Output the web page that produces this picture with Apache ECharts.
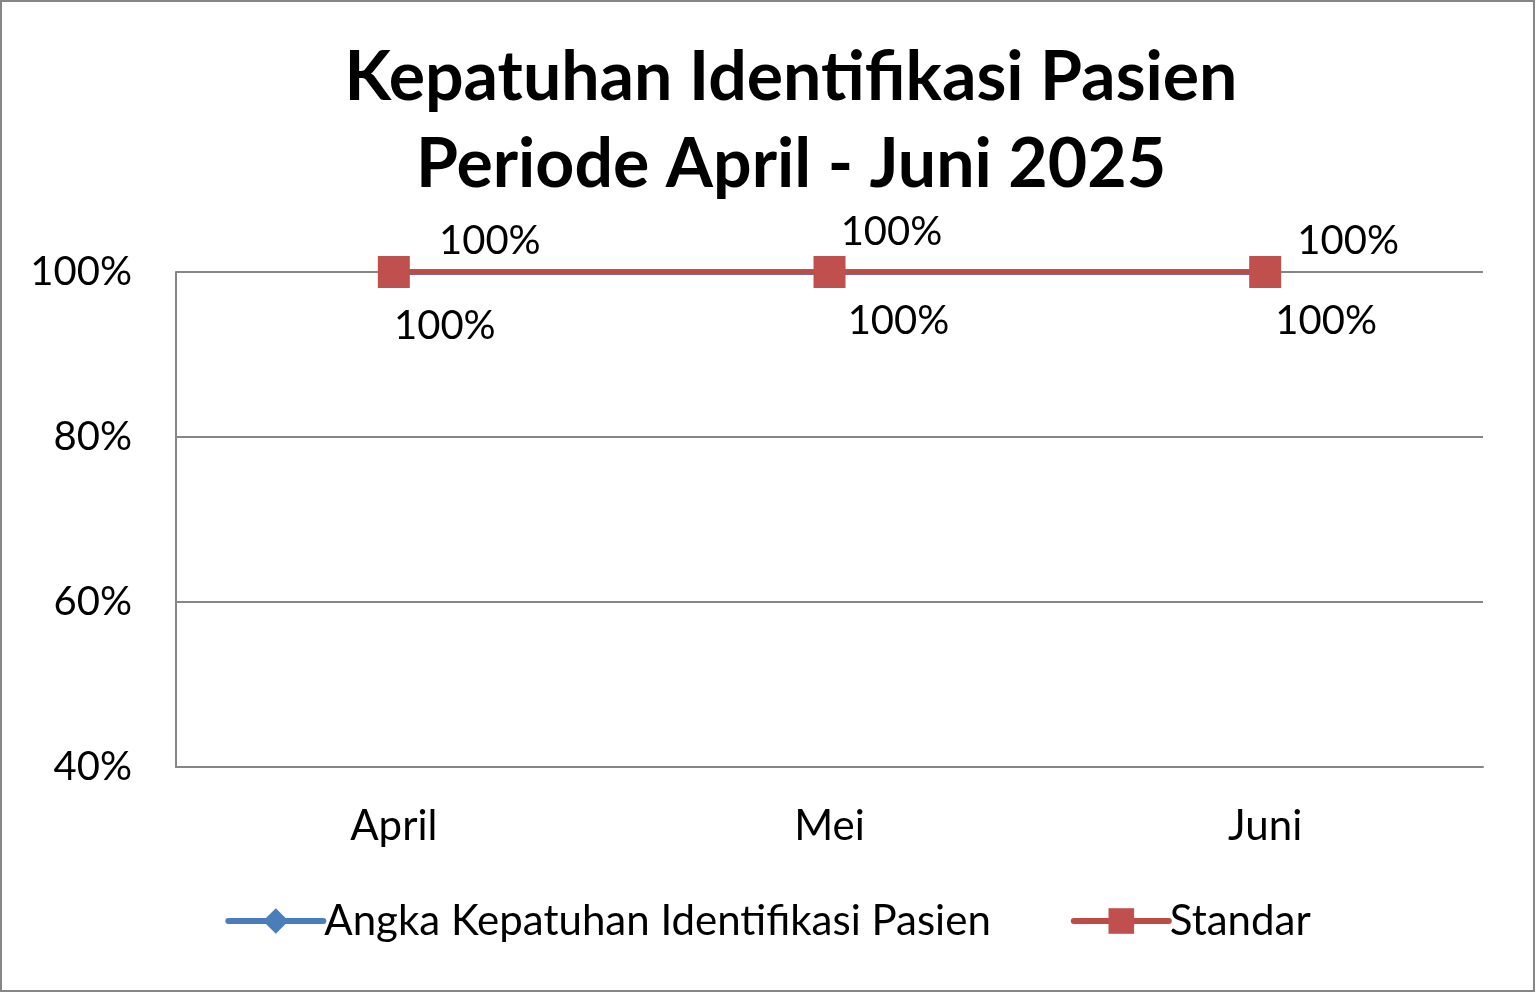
<!DOCTYPE html>
<html><head><meta charset="utf-8">
<script src="https://cdn.jsdelivr.net/npm/echarts@6/dist/echarts.min.js"></script>
<style>html,body{margin:0;padding:0;background:#fff}#c{width:1536px;height:993px}</style>
</head><body><div id="c"></div>
<script>
const categories = ['April', 'Mei', 'Juni'];
const kepatuhan = [100, 100, 100];
const standar = [100, 100, 100];
const yTicks = [40, 60, 80, 100];

const FONT = 'Lato, "Open Sans", sans-serif';
const chart = echarts.init(document.getElementById('c'));
const blueOffsets = [[51, 54], [69, 49], [61, 49]];
const redOffsets = [[96, -31], [62, -40], [83, -31]];
chart.setOption({
  animation: false,
  backgroundColor: '#fff',
  title: {
    text: 'Kepatuhan Identifikasi Pasien\nPeriode April - Juni 2025',
    left: 786, top: 30, textAlign: 'center',
    textStyle: { fontFamily: FONT, fontWeight: 'bold', fontSize: 68, lineHeight: 87, color: '#000' }
  },
  graphic: [{ type: 'rect', shape: { x: 1, y: 1, width: 1533, height: 990 }, style: { fill: 'none', stroke: '#878787', lineWidth: 2 } }],
  grid: { left: 176, right: 53, top: 272, bottom: 226 },
  legend: {
    bottom: 46, left: 'center', itemWidth: 95, itemHeight: 32, itemGap: 80,
    textStyle: { fontFamily: FONT, fontSize: 42, color: '#000', padding: [0, 0, 0, -4] },
    lineStyle: { width: 6, cap: 'round' },
    data: ['Angka Kepatuhan Identifikasi Pasien', 'Standar']
  },
  xAxis: {
    type: 'category', data: categories, boundaryGap: true,
    axisLine: { lineStyle: { color: '#868686', width: 2 } },
    axisTick: { show: false },
    axisLabel: { fontFamily: FONT, fontSize: 42, color: '#000', margin: 38 }
  },
  yAxis: {
    type: 'value', min: yTicks[0], max: yTicks[yTicks.length - 1], interval: 20,
    axisLine: { show: true, lineStyle: { color: '#868686', width: 2 } },
    axisTick: { show: false },
    splitLine: { lineStyle: { color: '#868686', width: 2 } },
    axisLabel: { fontFamily: FONT, fontSize: 40, color: '#000', margin: 44, formatter: v => v + '%' }
  },
  series: [
    {
      name: 'Angka Kepatuhan Identifikasi Pasien', type: 'line',
      data: kepatuhan.map((v, i) => ({ value: v, label: { offset: blueOffsets[i] } })),
      symbol: 'diamond', symbolSize: 22,
      lineStyle: { color: '#4a7ebb', width: 6, cap: 'round' }, itemStyle: { color: '#4a7ebb' },
      label: { show: true, position: 'inside', fontFamily: FONT, fontSize: 40, color: '#000', formatter: p => p.value + '%' }
    },
    {
      name: 'Standar', type: 'line',
      data: standar.map((v, i) => ({ value: v, label: { offset: redOffsets[i] } })),
      symbol: 'rect', symbolSize: 32,
      lineStyle: { color: '#be4b48', width: 5, cap: 'round' }, itemStyle: { color: '#c0504d' },
      label: { show: true, position: 'inside', fontFamily: FONT, fontSize: 40, color: '#000', formatter: p => p.value + '%' }
    }
  ]
});
</script></body></html>
